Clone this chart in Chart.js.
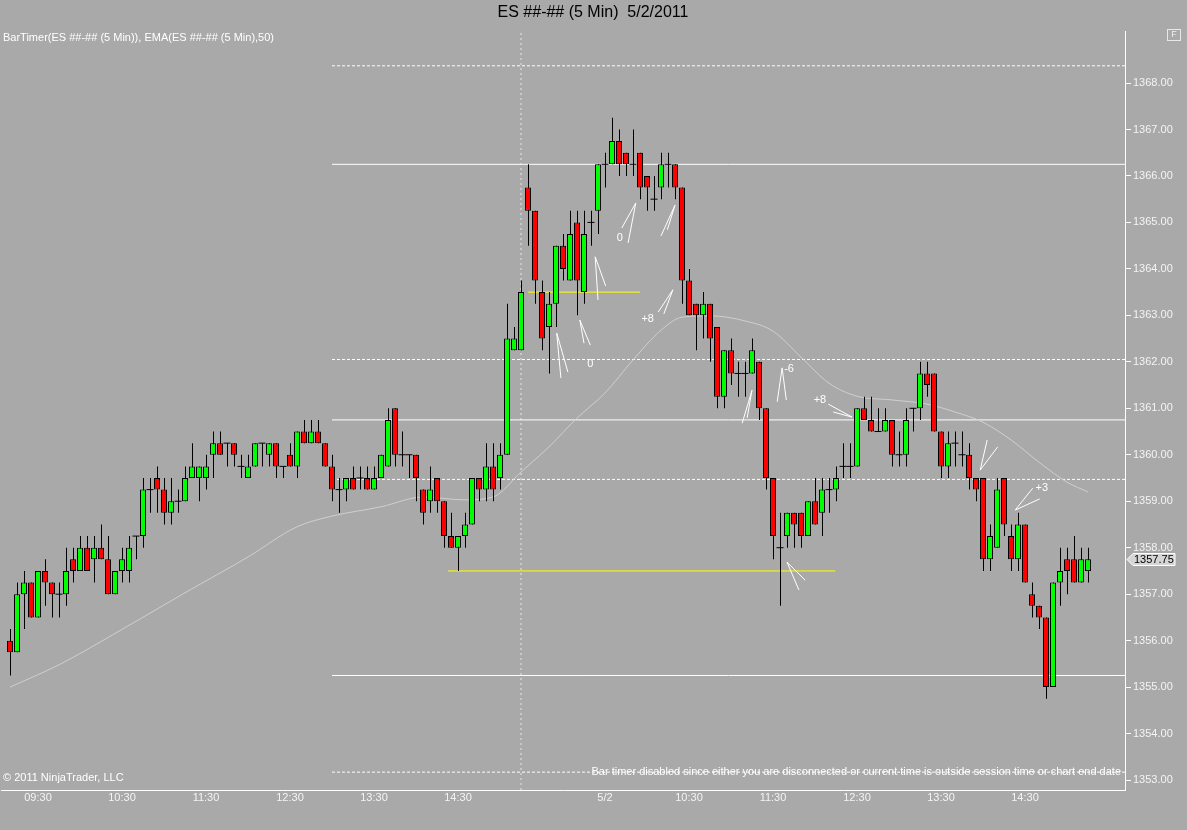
<!DOCTYPE html>
<html>
<head>
<meta charset="utf-8">
<title>ES ##-## (5 Min) 5/2/2011</title>
<script src="https://cdn.jsdelivr.net/npm/chart.js@4.4.1/dist/chart.umd.min.js"></script>
<style>
  html, body { margin: 0; padding: 0; background: #a9a9a9; }
  #wrap { width: 1187px; height: 830px; }
</style>
</head>
<body>
<div id="wrap"><canvas id="chart" width="1187" height="830"></canvas></div>
<script>
// 5 minute bars, index 0 = first bar on the left
const opens = [
  1356, 1355.75, 1357, 1357.25, 1356.5, 1357.5, 1357.25, 1357, 1357, 1357.75,
  1357.5, 1358, 1357.75, 1358, 1357.75, 1357, 1357.5, 1357.5, 1358.25, 1358.25,
  1359.25, 1359.5, 1359.25, 1358.75, 1359, 1359, 1359.5, 1359.5, 1359.5, 1360,
  1360.25, 1360.25, 1360.25, 1359.75, 1359.5, 1359.75, 1360.25, 1360, 1360.25, 1359.75,
  1360, 1359.75, 1360.5, 1360.25, 1360.5, 1360.25, 1359.75, 1359.25, 1359.25, 1359.5,
  1359.5, 1359.5, 1359.25, 1359.5, 1359.75, 1361, 1360, 1360, 1360, 1359.25,
  1359, 1359.5, 1359, 1358.25, 1358, 1358.25, 1358.5, 1359.5, 1359.25, 1359.75,
  1359.5, 1360, 1362.25, 1362.25, 1365.75, 1365.25, 1363.5, 1362.75, 1363.25, 1364.5,
  1363.75, 1365, 1363.5, 1365, 1365.25, 1366.25, 1366.25, 1366.75, 1366.5, 1366.25,
  1366.5, 1366, 1365.5, 1365.75, 1366.25, 1366.25, 1365.75, 1363.75, 1363.25, 1363,
  1363.25, 1362.75, 1361.25, 1362.25, 1361.75, 1361.75, 1361.75, 1362, 1361, 1359.5,
  1358, 1358.25, 1358.75, 1358.75, 1358.25, 1359, 1358.75, 1359.25, 1359.25, 1359.75,
  1359.75, 1359.75, 1361, 1360.75, 1360.5, 1360.5, 1360.75, 1360, 1360, 1361,
  1361, 1361.75, 1361.75, 1360.5, 1359.75, 1360.25, 1360, 1360, 1359.5, 1359.5,
  1357.75, 1358, 1359.5, 1358.25, 1357.75, 1358.5, 1357, 1356.75, 1356.5, 1355,
  1357.25, 1357.75, 1357.75, 1357.25, 1357.5
];
const highs = [
  1356.25, 1357.25, 1357.5, 1357.25, 1357.5, 1357.75, 1357.25, 1357.25, 1358, 1358,
  1358.25, 1358.25, 1358.25, 1358.5, 1358.25, 1357.5, 1358, 1358.25, 1358.25, 1359.5,
  1359.5, 1359.75, 1359.5, 1359.5, 1359.25, 1359.75, 1360.25, 1359.75, 1360, 1360.5,
  1360.5, 1360.25, 1360.25, 1360, 1360, 1360.25, 1360.25, 1360.25, 1360.25, 1359.75,
  1360.25, 1360.5, 1360.75, 1360.75, 1360.75, 1360.25, 1360, 1359.5, 1359.5, 1359.75,
  1359.75, 1359.75, 1359.75, 1360, 1361, 1361, 1360.5, 1360, 1360, 1359.25,
  1359.75, 1359.5, 1359, 1358.75, 1358.25, 1358.75, 1359.5, 1359.5, 1360.25, 1360.25,
  1360.25, 1363.25, 1362.75, 1363.75, 1366.25, 1365.25, 1363.75, 1363.5, 1364.5, 1364.75,
  1365.25, 1365.25, 1365.25, 1365.25, 1366.25, 1366.5, 1367.25, 1367, 1366.5, 1367,
  1366.5, 1366, 1366, 1366.5, 1366.5, 1366.25, 1365.75, 1364, 1363.25, 1363.5,
  1363.25, 1362.75, 1362.25, 1362.5, 1362, 1362, 1362.5, 1362, 1361, 1359.5,
  1358.75, 1358.75, 1358.75, 1358.75, 1359, 1359.5, 1359.5, 1359.5, 1359.75, 1360.25,
  1360.25, 1361, 1361.25, 1361.25, 1361, 1361, 1360.75, 1360.5, 1361, 1361,
  1362, 1362, 1361.75, 1360.5, 1360.5, 1360.5, 1360.5, 1360.25, 1359.5, 1359.5,
  1358.5, 1359.5, 1359.5, 1358.5, 1358.75, 1358.5, 1357.25, 1356.75, 1356.5, 1357.25,
  1358, 1358, 1358.25, 1358, 1358
];
const lows = [
  1355.25, 1355.75, 1356.25, 1356.5, 1356.5, 1356.75, 1356.5, 1356.5, 1356.75, 1357.25,
  1357.5, 1357.5, 1357.25, 1357.75, 1357, 1357, 1357.25, 1357.25, 1357.75, 1358,
  1358.75, 1358.75, 1358.5, 1358.5, 1358.75, 1359, 1359.5, 1359, 1359.25, 1359.5,
  1360, 1359.75, 1359.75, 1359.5, 1359.5, 1359.75, 1359.75, 1359.75, 1359.5, 1359.5,
  1359.75, 1359.5, 1360.25, 1360.25, 1360.25, 1359.75, 1359, 1358.75, 1359, 1359.25,
  1359.25, 1359.25, 1359.25, 1359.5, 1359.75, 1359.75, 1359.75, 1359.5, 1359, 1358.5,
  1358.75, 1358.75, 1358, 1358, 1357.5, 1358, 1358.5, 1359, 1359, 1359,
  1359.25, 1360, 1362.25, 1362.25, 1364.5, 1363.25, 1362.25, 1361.75, 1362.75, 1363.75,
  1363.75, 1363, 1363.25, 1364.5, 1364.75, 1365.75, 1366.25, 1366, 1366, 1366,
  1365.5, 1365.25, 1365.25, 1365.5, 1365.75, 1365.5, 1363.25, 1363, 1362.25, 1362.5,
  1362, 1361, 1361, 1361.5, 1361.25, 1361.25, 1361.75, 1360.75, 1359.25, 1357.75,
  1356.75, 1358, 1358, 1358, 1358.25, 1358.5, 1358.25, 1358.75, 1359, 1359.5,
  1359.5, 1359.75, 1360.75, 1360.5, 1360.5, 1360.5, 1359.75, 1359.75, 1359.75, 1360.5,
  1360.75, 1361.25, 1360.5, 1359.5, 1359.5, 1359.75, 1359.75, 1359.25, 1359, 1357.5,
  1357.5, 1358, 1358.25, 1357.5, 1357.5, 1357.25, 1356.5, 1356.25, 1354.75, 1355,
  1356.75, 1357, 1357.25, 1357.25, 1357.25
];
const closes = [
  1355.75, 1357, 1357.25, 1356.5, 1357.5, 1357.25, 1357, 1357, 1357.5, 1357.5,
  1358, 1357.5, 1358, 1357.75, 1357, 1357.5, 1357.75, 1358, 1358.25, 1359.25,
  1359.25, 1359.25, 1358.75, 1359, 1359, 1359.5, 1359.75, 1359.75, 1359.75, 1360.25,
  1360, 1360.25, 1360, 1359.75, 1359.75, 1360.25, 1360.25, 1360.25, 1359.75, 1359.75,
  1359.75, 1360.5, 1360.25, 1360.5, 1360.25, 1359.75, 1359.25, 1359.25, 1359.5, 1359.25,
  1359.5, 1359.25, 1359.5, 1360, 1360.75, 1360, 1360, 1360, 1359.5, 1358.75,
  1359.25, 1359, 1358.25, 1358, 1358.25, 1358.5, 1359.5, 1359.25, 1359.75, 1359.25,
  1360, 1362.5, 1362.5, 1363.5, 1365.25, 1363.75, 1362.5, 1363.25, 1364.5, 1364,
  1364.75, 1363.75, 1364.75, 1365, 1366.25, 1366.25, 1366.75, 1366.25, 1366.25, 1366.25,
  1365.75, 1365.75, 1365.5, 1366.25, 1366.25, 1365.75, 1363.75, 1363, 1363, 1363.25,
  1362.5, 1361.25, 1362.25, 1361.75, 1361.75, 1361.75, 1362.25, 1361, 1359.5, 1358.25,
  1358, 1358.75, 1358.5, 1358.25, 1359, 1358.5, 1359.25, 1359.25, 1359.5, 1359.75,
  1359.75, 1361, 1360.75, 1360.5, 1360.5, 1360.75, 1360, 1360, 1360.75, 1361,
  1361.75, 1361.5, 1360.5, 1359.75, 1360.25, 1360.25, 1360, 1359.5, 1359.25, 1357.75,
  1358.25, 1359.25, 1358.5, 1357.75, 1358.5, 1357.25, 1356.75, 1356.5, 1355, 1357.25,
  1357.5, 1357.5, 1357.25, 1357.75, 1357.75
];

// hourly ticks of the time axis: bar index and text
const timeTickIdx = [4, 16, 28, 40, 52, 64, 85, 97, 109, 121, 133, 145];
const timeTickText = ['09:30', '10:30', '11:30', '12:30', '13:30', '14:30', '5/2', '10:30', '11:30', '12:30', '13:30', '14:30'];
const priceTicks = [1353, 1354, 1355, 1356, 1357, 1358, 1359, 1360, 1361, 1362, 1363, 1364, 1365, 1366, 1367, 1368];

// EMA(50) at some bars
const emaIdx = [0, 7, 13, 25, 34, 41, 46, 53, 59, 65, 69, 73, 77, 81, 85, 89, 93, 96, 100, 105, 109, 113, 117, 121, 126, 131, 135, 139, 143, 147, 151, 154];
const emaVal = [1355.0, 1355.48, 1355.98, 1357.03, 1357.8, 1358.45, 1358.68, 1358.88, 1359.09, 1359.03, 1359.09, 1359.63, 1360.17, 1360.79, 1361.33, 1362.04, 1362.68, 1362.96, 1362.99, 1362.88, 1362.66, 1362.1, 1361.54, 1361.26, 1361.18, 1361.09, 1360.92, 1360.7, 1360.32, 1359.84, 1359.41, 1359.2];

// price levels drawn across the right part of the chart
const solidLevels = [1366.25, 1360.75, 1355.25];
const dashedLevels = [1368.37, 1362.05, 1359.47, 1353.17];
const levelFrom = 46;
const yellowLevels = [1363.5, 1357.5];
const yellowFrom = [74, 62.6];
const yellowTo = [90, 117.9];
const sessionBreak = 73;

// hand drawn arrows: [bar index, price] of tip and of both tails
const arrowTips = [[89.4, 1365.42], [95.0, 1365.37], [83.6, 1364.26], [81.4, 1362.9], [94.7, 1363.55], [78.1, 1362.62],
                   [106.0, 1361.39], [110.3, 1361.87], [120.3, 1360.81], [138.6, 1359.67], [143.6, 1358.81], [111.0, 1357.69]];
const arrowTailsA = [[87.4, 1364.88], [93.0, 1364.71], [84.0, 1363.33], [82.0, 1362.4], [92.6, 1363.07], [78.7, 1361.65],
                     [104.6, 1360.68], [109.6, 1361.14], [116.9, 1361.09], [139.6, 1360.32], [146.1, 1359.28], [112.7, 1357.09]];
const arrowTailsB = [[88.3, 1364.56], [93.9, 1364.84], [85.1, 1363.63], [82.9, 1362.36], [93.4, 1363.03], [79.7, 1361.78],
                     [105.3, 1360.79], [110.9, 1361.18], [117.6, 1360.92], [141.1, 1360.17], [147.1, 1359.05], [113.6, 1357.3]];
const noteText = ['0', '0', '+8', '-6', '+8', '+3'];
const noteIdx = [87.1, 82.9, 91.1, 111.3, 115.7, 147.4];
const notePrice = [1364.66, 1361.95, 1362.92, 1361.85, 1361.18, 1359.28];

const UP = '#00ff00';
const DOWN = '#ff0000';
const AXIS_TEXT = '#f4f4f4';
const FONT = '"Liberation Sans", Arial, sans-serif';

const xMin = -9 / 7, xMax = 1115 / 7;
const yMin = 1352.786, yMax = 1369.119;

const idx = opens.map((_, i) => i);
const isDoji = i => opens[i] === closes[i];
const bodyIdx = idx.filter(i => !isDoji(i));

const datasets = [];

solidLevels.forEach(v => datasets.push({
  type: 'line', data: [{ x: levelFrom, y: v }, { x: xMax, y: v }],
  borderColor: '#ffffff', borderWidth: 1, pointRadius: 0, order: 20
}));
dashedLevels.forEach(v => datasets.push({
  type: 'line', data: [{ x: levelFrom, y: v }, { x: xMax, y: v }],
  borderColor: '#ffffff', borderWidth: 1, borderDash: [3, 2], pointRadius: 0, order: 20
}));
datasets.push({
  type: 'line', data: [{ x: sessionBreak, y: yMin }, { x: sessionBreak, y: yMax }],
  borderColor: '#e6e6e6', borderWidth: 1, borderDash: [2, 3], pointRadius: 0, order: 20
});
datasets.push({
  type: 'line', label: 'EMA',
  data: emaIdx.map((x, k) => ({ x, y: emaVal[k] })),
  borderColor: '#cfcfcf', borderWidth: 1, pointRadius: 0,
  cubicInterpolationMode: 'monotone', order: 15
});
yellowLevels.forEach((v, k) => datasets.push({
  type: 'line', data: [{ x: yellowFrom[k], y: v }, { x: yellowTo[k], y: v }],
  borderColor: '#ffff00', borderWidth: 1, pointRadius: 0, order: 14
}));

// candles: wick, body, and a flat tick when open == close
datasets.push({
  type: 'bar', label: 'wick',
  data: idx.map(i => ({ x: i, y: [lows[i], highs[i]] })),
  backgroundColor: '#000000', barThickness: 1, grouped: false,
  inflateAmount: 0, order: 6
});
datasets.push({
  type: 'bar', label: 'body',
  data: bodyIdx.map(i => ({ x: i, y: [opens[i], closes[i]] })),
  backgroundColor: bodyIdx.map(i => closes[i] > opens[i] ? UP : DOWN),
  borderColor: '#000000', borderWidth: 1, borderSkipped: false,
  barThickness: 6, grouped: false, inflateAmount: 0, order: 5
});
datasets.push({
  type: 'scatter', label: 'doji',
  data: idx.filter(isDoji).map(i => ({ x: i, y: closes[i] })),
  pointStyle: 'line', pointRadius: 3.5, pointHoverRadius: 3.5,
  borderColor: '#000000', borderWidth: 1, order: 4
});

arrowTips.forEach((tip, k) => datasets.push({
  type: 'line',
  data: [
    { x: arrowTailsA[k][0], y: arrowTailsA[k][1] },
    { x: tip[0], y: tip[1] },
    { x: arrowTailsB[k][0], y: arrowTailsB[k][1] }
  ],
  borderColor: '#ffffff', borderWidth: 1, pointRadius: 0, order: 2
}));

// wicks sit on a whole pixel column inside the 6px body, like the original
const wickAlign = {
  id: 'wickAlign',
  beforeDatasetDraw(chart, args) {
    if (args.meta.label !== 'wick') return;
    chart.ctx.save();
    chart.ctx.translate(0.5, 0);
  },
  afterDatasetDraw(chart, args) {
    if (args.meta.label === 'wick') chart.ctx.restore();
  }
};

const chrome = {
  id: 'chrome',
  afterDraw(chart) {
    const { ctx, scales: { x, y } } = chart;
    ctx.save();
    ctx.textBaseline = 'middle';

    ctx.fillStyle = '#000000';
    ctx.font = '16px ' + FONT;
    ctx.textAlign = 'center';
    ctx.fillText('ES ##-## (5 Min)  5/2/2011', 593, 13);

    ctx.fillStyle = '#ffffff';
    ctx.font = '11px ' + FONT;
    ctx.textAlign = 'left';
    ctx.fillText('BarTimer(ES ##-## (5 Min)), EMA(ES ##-## (5 Min),50)', 3, 38);
    ctx.fillText('\u00a9 2011 NinjaTrader, LLC', 3, 778);
    ctx.textAlign = 'right';
    ctx.fillText('Bar timer disabled since either you are disconnected or current time is outside session time or chart end date', 1121, 772);

    // hand written numbers next to the arrows
    ctx.font = '11px ' + FONT;
    ctx.textAlign = 'center';
    noteText.forEach((t, k) => {
      ctx.fillText(t, x.getPixelForValue(noteIdx[k]), y.getPixelForValue(notePrice[k]));
    });

    // last price tag on the price axis
    const last = closes[closes.length - 1];
    const py = Math.round(y.getPixelForValue(last)) + 0.5;
    const left = x.right + 2;
    ctx.beginPath();
    ctx.moveTo(left, py);
    ctx.lineTo(left + 6, py - 6);
    ctx.lineTo(left + 48, py - 6);
    ctx.lineTo(left + 48, py + 6);
    ctx.lineTo(left + 6, py + 6);
    ctx.closePath();
    ctx.fillStyle = '#d6d6d6';
    ctx.fill();
    ctx.strokeStyle = '#ffffff';
    ctx.lineWidth = 1;
    ctx.stroke();
    ctx.fillStyle = '#000000';
    ctx.font = '11px ' + FONT;
    ctx.textAlign = 'left';
    ctx.fillText(last.toFixed(2), left + 7, py);

    // small "F" box in the corner
    ctx.strokeStyle = '#e8e8e8';
    ctx.strokeRect(1167.5, 29.5, 13, 11);
    ctx.fillStyle = '#f0f0f0';
    ctx.font = '9px ' + FONT;
    ctx.textAlign = 'center';
    ctx.fillText('F', 1174, 35);
    ctx.restore();
  }
};

new Chart(document.getElementById('chart'), {
  type: 'bar',
  data: { datasets },
  options: {
    responsive: false,
    animation: false,
    events: [],
    layout: { autoPadding: false, padding: { left: 1, top: 31, right: 0, bottom: 0 } },
    plugins: { legend: { display: false }, tooltip: { enabled: false }, title: { display: false } },
    scales: {
      x: {
        type: 'linear', min: xMin, max: xMax, offset: false,
        afterBuildTicks: s => { s.ticks = timeTickIdx.map(v => ({ value: v })); },
        afterFit: s => { s.height = 40; s.paddingLeft = 0; s.paddingRight = 0; },
        ticks: {
          callback: (v, i) => timeTickText[i],
          color: AXIS_TEXT, font: { family: FONT, size: 11 },
          maxRotation: 0, autoSkip: false, padding: 1
        },
        grid: { drawOnChartArea: false, drawTicks: false, color: '#ffffff', offset: false },
        border: { color: '#ffffff' }
      },
      y: {
        type: 'linear', position: 'right', min: yMin, max: yMax,
        afterBuildTicks: s => { s.ticks = priceTicks.map(v => ({ value: v })); },
        afterFit: s => { s.width = 62; s.paddingTop = 0; s.paddingBottom = 0; },
        ticks: {
          callback: v => v.toFixed(2),
          color: AXIS_TEXT, font: { family: FONT, size: 11 }, padding: 2
        },
        grid: { drawOnChartArea: false, tickLength: 6, color: '#ffffff' },
        border: { color: '#ffffff' }
      }
    }
  },
  plugins: [wickAlign, chrome]
});
</script>
</body>
</html>
